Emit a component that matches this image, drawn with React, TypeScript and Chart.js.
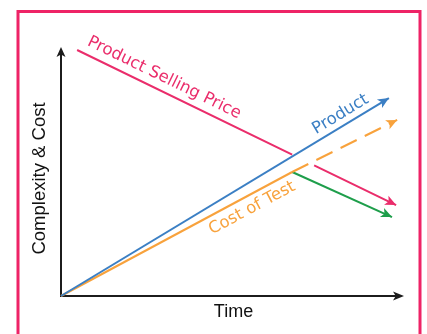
import React, { useEffect, useRef } from "react";
import { Chart, registerables } from "chart.js";

Chart.register(...registerables);

// ---- data (arbitrary units: time 0..10, complexity/cost 0..10) ----
const productX = [0, 9.56];
const productY = [0, 7.95];
const priceX = [0.47, 6.74, 7.0, 7.38, 9.77];
const priceY: (number | null)[] = [9.88, 5.68, null, 5.25, 3.65];
const costX = [0, 6.74];
const costY = [0, 4.98];
const costTrendX = [6.74, 9.8];
const costTrendY = [4.98, 7.07];
const reducedCostX = [6.74, 9.65];
const reducedCostY = [4.98, 3.17];

const priceLabel = "Product Selling Price";
const productLabel = "Product";
const costLabel = "Cost of Test";
const xTitle = "Time";
const yTitle = "Complexity & Cost";

const FRAME = "#EE2366";
const RED = "#EA2D6B";
const BLUE = "#3B7FC4";
const ORANGE = "#F8A23C";
const GREEN = "#1E9E4B";
const AXIS = "#1c1c1c";

const pts = (xs: number[], ys: (number | null)[]) => xs.map((x, i) => ({ x, y: ys[i] }));

function arrowHead(ctx: CanvasRenderingContext2D, fx: number, fy: number, tx: number, ty: number, color: string, len = 10, half = 4.5) {
  const a = Math.atan2(ty - fy, tx - fx);
  ctx.save();
  ctx.translate(tx, ty);
  ctx.rotate(a);
  ctx.fillStyle = color;
  ctx.beginPath();
  ctx.moveTo(0, 0);
  ctx.lineTo(-len, -half);
  ctx.lineTo(-len * 0.75, 0);
  ctx.lineTo(-len, half);
  ctx.closePath();
  ctx.fill();
  ctx.restore();
}

function textAlong(ctx: CanvasRenderingContext2D, p0: any, p1: any, t: number, off: number, text: string, color: string, font: string) {
  const x = p0.x + (p1.x - p0.x) * t;
  const y = p0.y + (p1.y - p0.y) * t;
  const a = Math.atan2(p1.y - p0.y, p1.x - p0.x);
  ctx.save();
  ctx.translate(x, y);
  ctx.rotate(a);
  ctx.font = font;
  ctx.fillStyle = color;
  ctx.textAlign = "center";
  ctx.textBaseline = "middle";
  ctx.fillText(text, 0, off);
  ctx.restore();
}

const diagramPlugin = {
  id: "diagram",
  beforeDraw(chart: any) {
    const ctx: CanvasRenderingContext2D = chart.ctx;
    const { left, right, top, bottom } = chart.chartArea;
    ctx.save();
    ctx.fillStyle = "#ffffff";
    ctx.fillRect(0, 0, chart.width, chart.height);
    ctx.strokeStyle = FRAME;
    ctx.lineWidth = 3;
    ctx.strokeRect(18, 11.5, 402, 400);
    // axes
    ctx.strokeStyle = AXIS;
    ctx.lineWidth = 2;
    ctx.beginPath();
    ctx.moveTo(left, top + 6);
    ctx.lineTo(left, bottom);
    ctx.lineTo(right - 6, bottom);
    ctx.stroke();
    arrowHead(ctx, left, bottom, left, top, AXIS, 10, 4.5);
    arrowHead(ctx, left, bottom, right, bottom, AXIS, 11, 4.5);
    // axis titles
    ctx.fillStyle = "#111";
    ctx.font = "18px 'Liberation Sans', Arial, sans-serif";
    ctx.textAlign = "center";
    ctx.textBaseline = "middle";
    ctx.fillText(xTitle, (left + right) / 2 + 1, bottom + 16);
    ctx.save();
    ctx.translate(left - 21, (top + bottom) / 2 + 7);
    ctx.rotate(-Math.PI / 2);
    ctx.font = "18.5px 'Liberation Sans', Arial, sans-serif";
    ctx.fillText(yTitle, 0, 0);
    ctx.restore();
    ctx.restore();
  },
  afterDatasetsDraw(chart: any) {
    const ctx: CanvasRenderingContext2D = chart.ctx;
    const get = (i: number) => chart.getDatasetMeta(i).data.filter((p: any) => !p.skip && Number.isFinite(p.y));
    const product = get(0);
    const price = get(1);
    const cost = get(2);
    const trend = get(3);
    const reduced = get(4);
    const last2 = (a: any[]) => [a[a.length - 2], a[a.length - 1]];
    [[product, BLUE], [price, RED], [trend, ORANGE], [reduced, GREEN]].forEach(([arr, c]: any) => {
      const [a, b] = last2(arr);
      arrowHead(ctx, a.x, a.y, b.x, b.y, c, 11, 5);
    });
    const font = "16.5px 'DejaVu Sans', sans-serif";
    textAlong(ctx, price[0], price[price.length - 1], 0.255, -13, priceLabel, RED, font);
    textAlong(ctx, product[0], product[product.length - 1], 0.87, -11, productLabel, BLUE, font);
    textAlong(ctx, cost[0], cost[cost.length - 1], 0.8, 13, costLabel, ORANGE, font);
  },
};

export default function App() {
  const ref = useRef<HTMLCanvasElement | null>(null);
  useEffect(() => {
    if (!ref.current) return;
    const base = { fill: false, pointRadius: 0, pointHoverRadius: 0, borderWidth: 2, tension: 0, clip: false as any, spanGaps: false };
    const chart = new Chart(ref.current, {
      type: "line",
      data: {
        datasets: [
          { ...base, label: productLabel, data: pts(productX, productY) as any, borderColor: BLUE },
          { ...base, label: priceLabel, data: pts(priceX, priceY) as any, borderColor: RED },
          { ...base, label: costLabel, data: pts(costX, costY) as any, borderColor: ORANGE },
          { ...base, label: "Cost of Test (trend)", data: pts(costTrendX, costTrendY) as any, borderColor: ORANGE, borderDash: [18, 9] },
          { ...base, label: "Reduced Cost of Test", data: pts(reducedCostX, reducedCostY) as any, borderColor: GREEN },
        ],
      },
      options: {
        responsive: false,
        animation: false,
        devicePixelRatio: 1,
        layout: { padding: { left: 61, right: 23, top: 47, bottom: 38 } },
        plugins: { legend: { display: false }, tooltip: { enabled: false }, title: { display: false } },
        events: [],
        scales: {
          x: { type: "linear", min: 0, max: 10, display: false },
          y: { type: "linear", min: 0, max: 10, display: false },
        },
      },
      plugins: [diagramPlugin],
    });
    return () => chart.destroy();
  }, []);
  return (
    <div style={{ position: "fixed", left: 0, top: 0, width: 427, height: 334 }}>
      <canvas ref={ref} width={427} height={334} style={{ display: "block" }} />
    </div>
  );
}
